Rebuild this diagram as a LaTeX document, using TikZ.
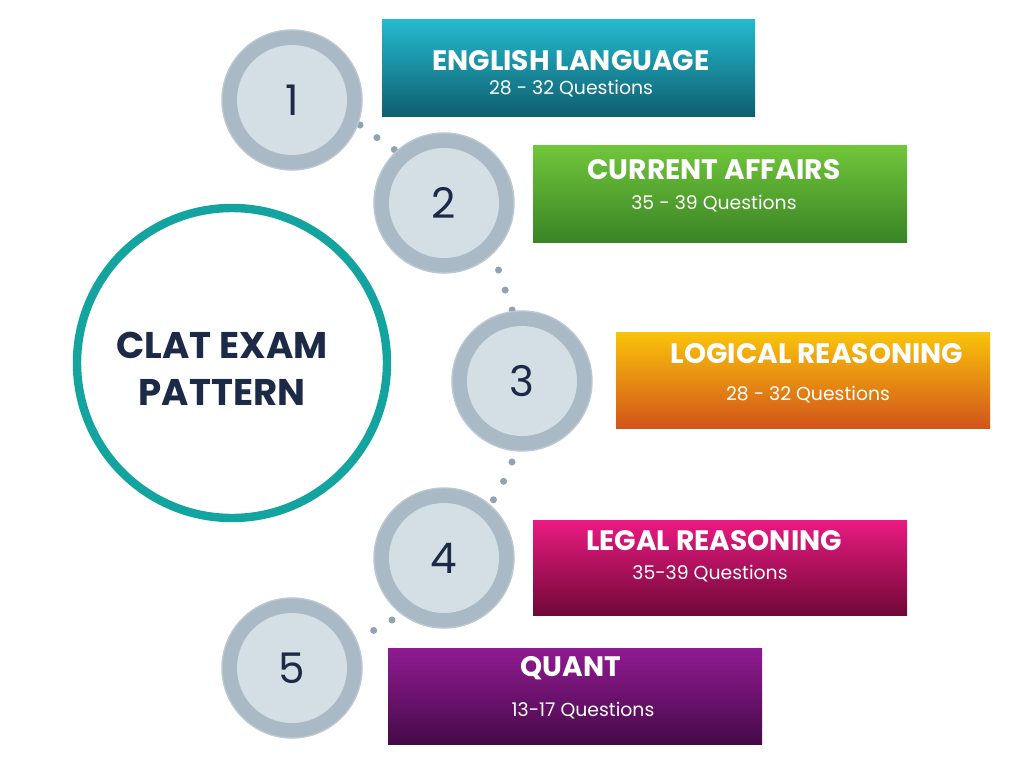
\documentclass[tikz,border=0pt]{standalone}
\usepackage{fontspec}
\setmainfont{Poppins}
\usetikzlibrary{positioning,calc}
\definecolor{navy}{HTML}{1C2A48}
\definecolor{ring}{HTML}{A9BAC6}
\definecolor{inner}{HTML}{D3DEE5}
\definecolor{dotc}{HTML}{8FA3B0}
\begin{document}
\begin{tikzpicture}[x=0.025cm,y=-0.025cm,
    numcircle/.style={circle, fill=ring, minimum size=140*0.025cm, draw=ring!80!white, line width=1pt},
    numinner/.style={circle, fill=inner, minimum size=110*0.025cm, font=\fontsize{30}{30}\selectfont, text=navy},
    topicbox/.style={rectangle, minimum width=374*0.025cm, minimum height=96*0.025cm, anchor=north west},
    headtxt/.style={text=white, font=\bfseries\fontsize{20}{20}\selectfont},
    subtxt/.style={text=white, font=\fontsize{13.4}{13.4}\selectfont},
    trail/.style={dotc, line width=5pt, line cap=round, dash pattern=on 0pt off 15pt}
    ]
    \useasboundingbox (0,0) rectangle (1024,768);
    \fill[white] (0,0) rectangle (1024,768);

    %Dotted trail
    \draw[trail] (360,125) .. controls (380,140) .. (395,150);
    \draw[trail] (492,250) .. controls (505,290) .. (515,318);
    \draw[trail] (512,462) .. controls (500,490) .. (490,505);
    \draw[trail] (392,620) .. controls (375,630) .. (358,638);

    %Main circle
    \node[circle, draw={rgb,255:red,20;green,164;blue,160}, line width=6pt, fill=white,
          minimum size=310*0.025cm] (main) at (232,363) {};
    \node[text=navy, font=\bfseries\fontsize{26.4}{33}\selectfont, align=center] (title) at (222,369) {CLAT EXAM\\PATTERN};

    %Boxes
    \shade[top color={rgb,255:red,36;green,186;blue,207}, bottom color={rgb,255:red,14;green,94;blue,110}] (382,20) rectangle (755,117);
    \node[topicbox] (b1) at (382,20) {};
    \shade[top color={rgb,255:red,112;green,198;blue,58}, bottom color={rgb,255:red,58;green,132;blue,38}] (533,146) rectangle (907,242);
    \node[topicbox] (b2) at (533,146) {};
    \shade[top color={rgb,255:red,250;green,196;blue,10}, bottom color={rgb,255:red,210;green,84;blue,26}] (616,332) rectangle (990,428);
    \node[topicbox] (b3) at (616,332) {};
    \shade[top color={rgb,255:red,234;green,26;blue,130}, bottom color={rgb,255:red,112;green,8;blue,54}] (533,520) rectangle (907,615);
    \node[topicbox] (b4) at (533,520) {};
    \shade[top color={rgb,255:red,144;green,26;blue,146}, bottom color={rgb,255:red,70;green,10;blue,72}] (388,648) rectangle (762,744);
    \node[topicbox] (b5) at (388,648) {};

    %Texts
    \node[headtxt] (h1) at (571,61) {ENGLISH LANGUAGE};
    \node[subtxt]  (s1) at (571,89) {28 - 32 Questions};
    \node[headtxt] (h2) at (714,170) {CURRENT AFFAIRS};
    \node[subtxt]  (s2) at (714,204) {35 - 39 Questions};
    \node[headtxt] (h3) at (817,354) {LOGICAL REASONING};
    \node[subtxt]  (s3) at (808,395) {28 - 32 Questions};
    \node[headtxt] (h4) at (714,541) {LEGAL REASONING};
    \node[subtxt]  (s4) at (710,574) {35-39 Questions};
    \node[headtxt] (h5) at (571,668) {QUANT};
    \node[subtxt]  (s5) at (583,711) {13-17 Questions};

    %Number circles
    \foreach \n/\x/\y in {1/292/100, 2/444/203, 3/522/381, 4/444/558, 5/292/668} {
        \node[numcircle] (c\n) at (\x,\y) {};
        \node[numinner] (n\n) at (\x,\y) {\n};
    }
\end{tikzpicture}
\end{document}
